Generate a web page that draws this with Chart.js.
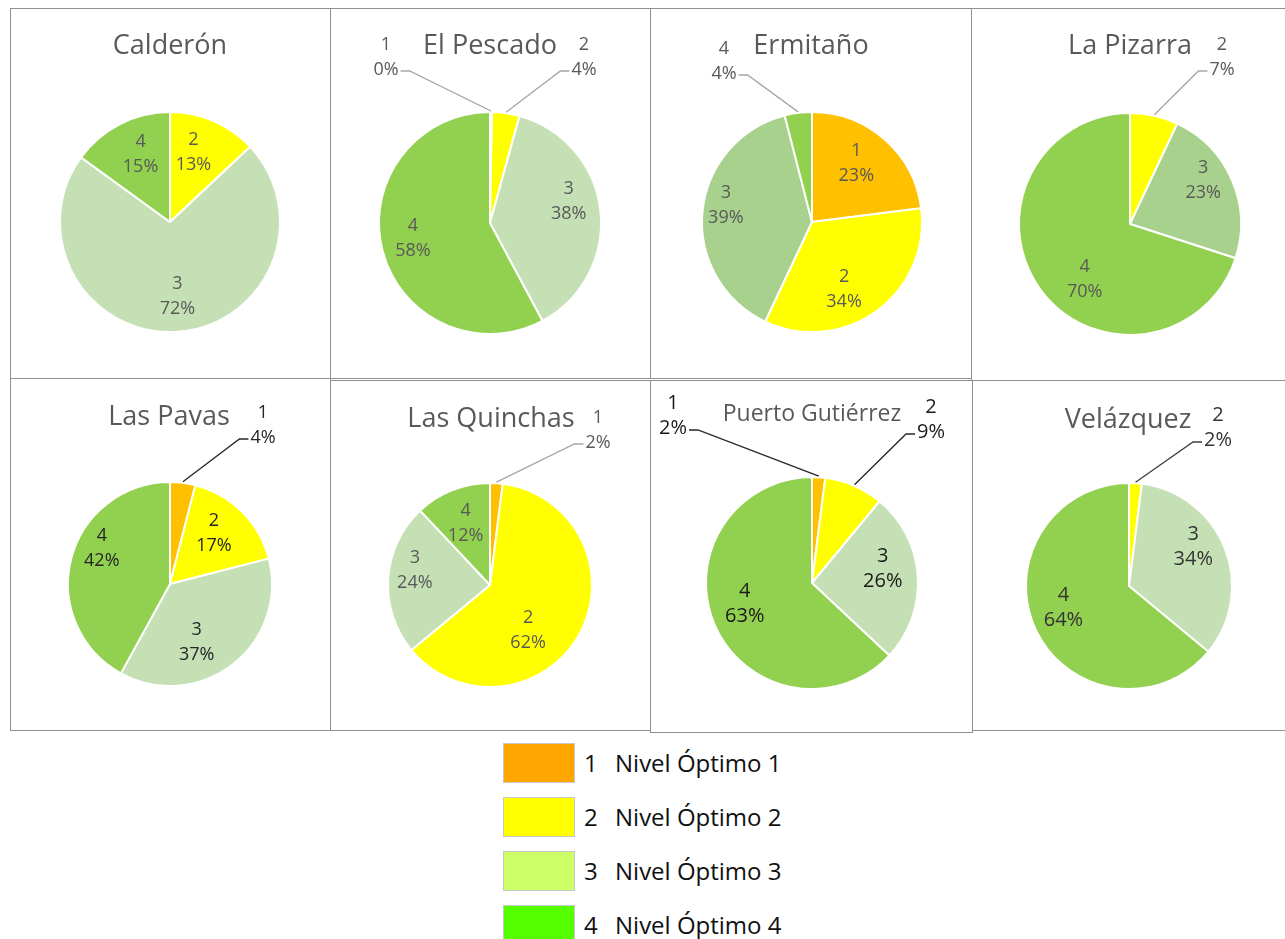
<!DOCTYPE html>
<html>
<head>
<meta charset="utf-8">
<script src="https://cdn.jsdelivr.net/npm/chart.js@4.4.0/dist/chart.umd.min.js"></script>
<style>
    body { margin: 0; background: #fff; width: 1285px; height: 939px; overflow: hidden; position: relative; font-family: 'Open Sans', sans-serif; }
    .panel { position: absolute; outline: 1px solid #8f8f8f; outline-offset: -1px; }
    .panel canvas { position: absolute; left: 0; top: 0; }
    .legend-box { position: absolute; left: 503px; width: 72px; height: 40px; box-sizing: border-box; border: 1px solid #c8c8c8; }
    .legend-num, .legend-text { position: absolute; font-size: 24px; line-height: 40px; color: #111; }
</style>
</head>
<body>
<div id="charts"></div>
<div id="legend"></div>
<script>
// Categories and legend
const categories = ['1', '2', '3', '4'];
const legendLabels = ['Nivel Óptimo 1', 'Nivel Óptimo 2', 'Nivel Óptimo 3', 'Nivel Óptimo 4'];
const stations = ['Calderón', 'El Pescado', 'Ermitaño', 'La Pizarra', 'Las Pavas', 'Las Quinchas', 'Puerto Gutiérrez', 'Velázquez'];

// Share of each level per station (%)
const calderon = [0, 13, 72, 15];
const elPescado = [0.3, 4, 38, 58];
const ermitano = [23, 34, 39, 4];
const laPizarra = [0, 7, 23, 70];
const lasPavas = [4, 17, 37, 42];
const lasQuinchas = [2, 62, 24, 12];
const puertoGutierrez = [2, 9, 26, 63];
const velazquez = [0, 2, 34, 64];

// Colours
const pieColors = ['#FFC000', '#FFFF00', '#C5E0B4', '#92D050'];
const pieColorsDark = ['#FFC000', '#FFFF00', '#A9D18E', '#92D050'];
const legendColors = ['#FFA500', '#FFFF00', '#CCFF66', '#55FF00'];

// Layout of each panel (page coordinates); shift = nudge of inside labels
const panels = [
    { data: calderon, rect: [10, 8, 321, 371], center: [170, 222], r: 110, title: [170, 46, 27], font: 18, colors: pieColors, text: '#595959', line: '#a6a6a6',
      callouts: {}, shift: { 1: [-5, -4], 2: [3, 3], 3: [3, -4] } },
    { data: elPescado, rect: [330, 8, 321, 371], center: [490, 223], r: 111, title: [490, 46, 27], font: 18, colors: pieColors, text: '#595959', line: '#a6a6a6',
      callouts: { 0: [386, 57], 1: [584, 57] }, shift: { 2: [7, -14], 3: [-7, -2] } },
    { data: ermitano, rect: [650, 8, 322, 371], center: [812, 222], r: 110, title: [811, 46, 27], font: 18, colors: pieColorsDark, text: '#595959', line: '#a6a6a6',
      callouts: { 3: [724, 61] }, shift: { 0: [-3, -5], 1: [-10, 10], 2: [-15, -10] } },
    { data: laPizarra, rect: [971, 8, 320, 373], center: [1130, 224], r: 111, title: [1130, 46, 27], font: 18, colors: pieColorsDark, text: '#595959', line: '#a6a6a6',
      callouts: { 1: [1222, 57] }, shift: { 2: [7, -15], 3: [13, 13] } },
    { data: lasPavas, rect: [10, 378, 321, 353], center: [170, 584], r: 102, title: [169, 417, 27], font: 18, colors: pieColors, text: '#262626', line: '#262626',
      callouts: { 0: [263, 425] }, shift: { 1: [-3, -4], 2: [-14, 6], 3: [-4, -19] } },
    { data: lasQuinchas, rect: [330, 380, 321, 351], center: [490, 585], r: 102, title: [491, 419, 27], font: 18, colors: pieColors, text: '#595959', line: '#a6a6a6',
      callouts: { 0: [598, 430] }, shift: { 1: [-20, 13], 2: [-9, -10] } },
    { data: puertoGutierrez, rect: [650, 380, 323, 353], center: [812, 583], r: 106, title: [812, 414, 23], font: 20, colors: pieColors, text: '#1a1a1a', line: '#262626',
      callouts: { 0: [673, 416], 1: [931, 420] }, shift: { 2: [2, -10], 3: [-4, -7] } },
    { data: velazquez, rect: [972, 380, 320, 351], center: [1129, 586], r: 103, title: [1128, 420, 27], font: 20, colors: pieColors, text: '#333333', line: '#404040',
      callouts: { 1: [1218, 428] }, shift: { 2: [2, -15], 3: [-5, -7] } }
];

// Draws titles, data labels and leader lines
const pieLabels = {
    id: 'pieLabels',
    afterDatasetsDraw(chart, args, opts) {
        const ctx = chart.ctx;
        const meta = chart.getDatasetMeta(0);
        const data = chart.data.datasets[0].data;
        const total = data.reduce((a, b) => a + b, 0);
        ctx.save();
        ctx.textAlign = 'center';
        ctx.textBaseline = 'middle';
        ctx.font = opts.font + 'px "Open Sans"';
        meta.data.forEach((arc, i) => {
            const v = data[i];
            const pct = Math.round(v / total * 100) + '%';
            const p = arc.getProps(['x', 'y', 'startAngle', 'endAngle', 'outerRadius'], true);
            const mid = (p.startAngle + p.endAngle) / 2;
            const callout = opts.callouts[i];
            ctx.fillStyle = opts.text;
            if (callout) {
                const lx = callout[0] - opts.ox;
                const ly = callout[1] - opts.oy;
                ctx.fillText(categories[i], lx, ly - 12.5);
                ctx.fillText(pct, lx, ly + 12.5);
                const side = lx < p.x ? 1 : -1;
                const sx = lx + side * (ctx.measureText(pct).width / 2 + 2);
                const ex = p.x + Math.cos(mid) * (p.outerRadius + 1);
                const ey = p.y + Math.sin(mid) * (p.outerRadius + 1);
                ctx.strokeStyle = opts.line;
                ctx.lineWidth = 1.3;
                ctx.beginPath();
                ctx.moveTo(sx, ly + 14);
                ctx.lineTo(sx + side * 9, ly + 14);
                ctx.lineTo(ex, ey);
                ctx.stroke();
            } else if (v > 0) {
                const rr = p.outerRadius * 0.65;
                const d = opts.shift[i] || [0, 0];
                const tx = p.x + Math.cos(mid) * rr + d[0];
                const ty = p.y + Math.sin(mid) * rr + d[1];
                ctx.fillText(categories[i], tx, ty - 12.5);
                ctx.fillText(pct, tx, ty + 12.5);
            }
        });
        ctx.fillStyle = '#595959';
        ctx.font = opts.titleSize + 'px "Open Sans"';
        ctx.fillText(opts.title, opts.titleX, opts.titleY);
        ctx.restore();
    }
};

const chartsEl = document.getElementById('charts');
panels.forEach((p, k) => {
    const [left, top, w, h] = p.rect;
    const div = document.createElement('div');
    div.className = 'panel';
    div.style.left = left + 'px';
    div.style.top = top + 'px';
    div.style.width = w + 'px';
    div.style.height = h + 'px';
    const canvas = document.createElement('canvas');
    canvas.width = w;
    canvas.height = h;
    div.appendChild(canvas);
    chartsEl.appendChild(div);

    const cx = p.center[0] - left;
    const cy = p.center[1] - top;
    const half = p.r + 1;
    new Chart(canvas.getContext('2d'), {
        type: 'pie',
        data: {
            labels: categories,
            datasets: [{
                data: p.data,
                backgroundColor: p.colors,
                borderColor: '#ffffff',
                borderWidth: 2,
                hoverOffset: 0
            }]
        },
        options: {
            responsive: false,
            animation: false,
            events: [],
            layout: { padding: { left: cx - half, right: w - cx - half, top: cy - half, bottom: h - cy - half } },
            plugins: {
                legend: { display: false },
                tooltip: { enabled: false },
                pieLabels: {
                    callouts: p.callouts,
                    shift: p.shift,
                    font: p.font,
                    ox: left, oy: top,
                    text: p.text, line: p.line,
                    title: stations[k],
                    titleX: p.title[0] - left,
                    titleY: p.title[1] - top,
                    titleSize: p.title[2]
                }
            }
        },
        plugins: [pieLabels]
    });
});

// Legend
const legendEl = document.getElementById('legend');
categories.forEach((c, i) => {
    const y = 743 + i * 54;
    const box = document.createElement('div');
    box.className = 'legend-box';
    box.style.top = y + 'px';
    box.style.background = legendColors[i];
    legendEl.appendChild(box);
    const num = document.createElement('div');
    num.className = 'legend-num';
    num.style.left = '584px';
    num.style.top = y + 'px';
    num.textContent = c;
    legendEl.appendChild(num);
    const txt = document.createElement('div');
    txt.className = 'legend-text';
    txt.style.left = '615px';
    txt.style.top = y + 'px';
    txt.textContent = legendLabels[i];
    legendEl.appendChild(txt);
});
</script>
</body>
</html>
